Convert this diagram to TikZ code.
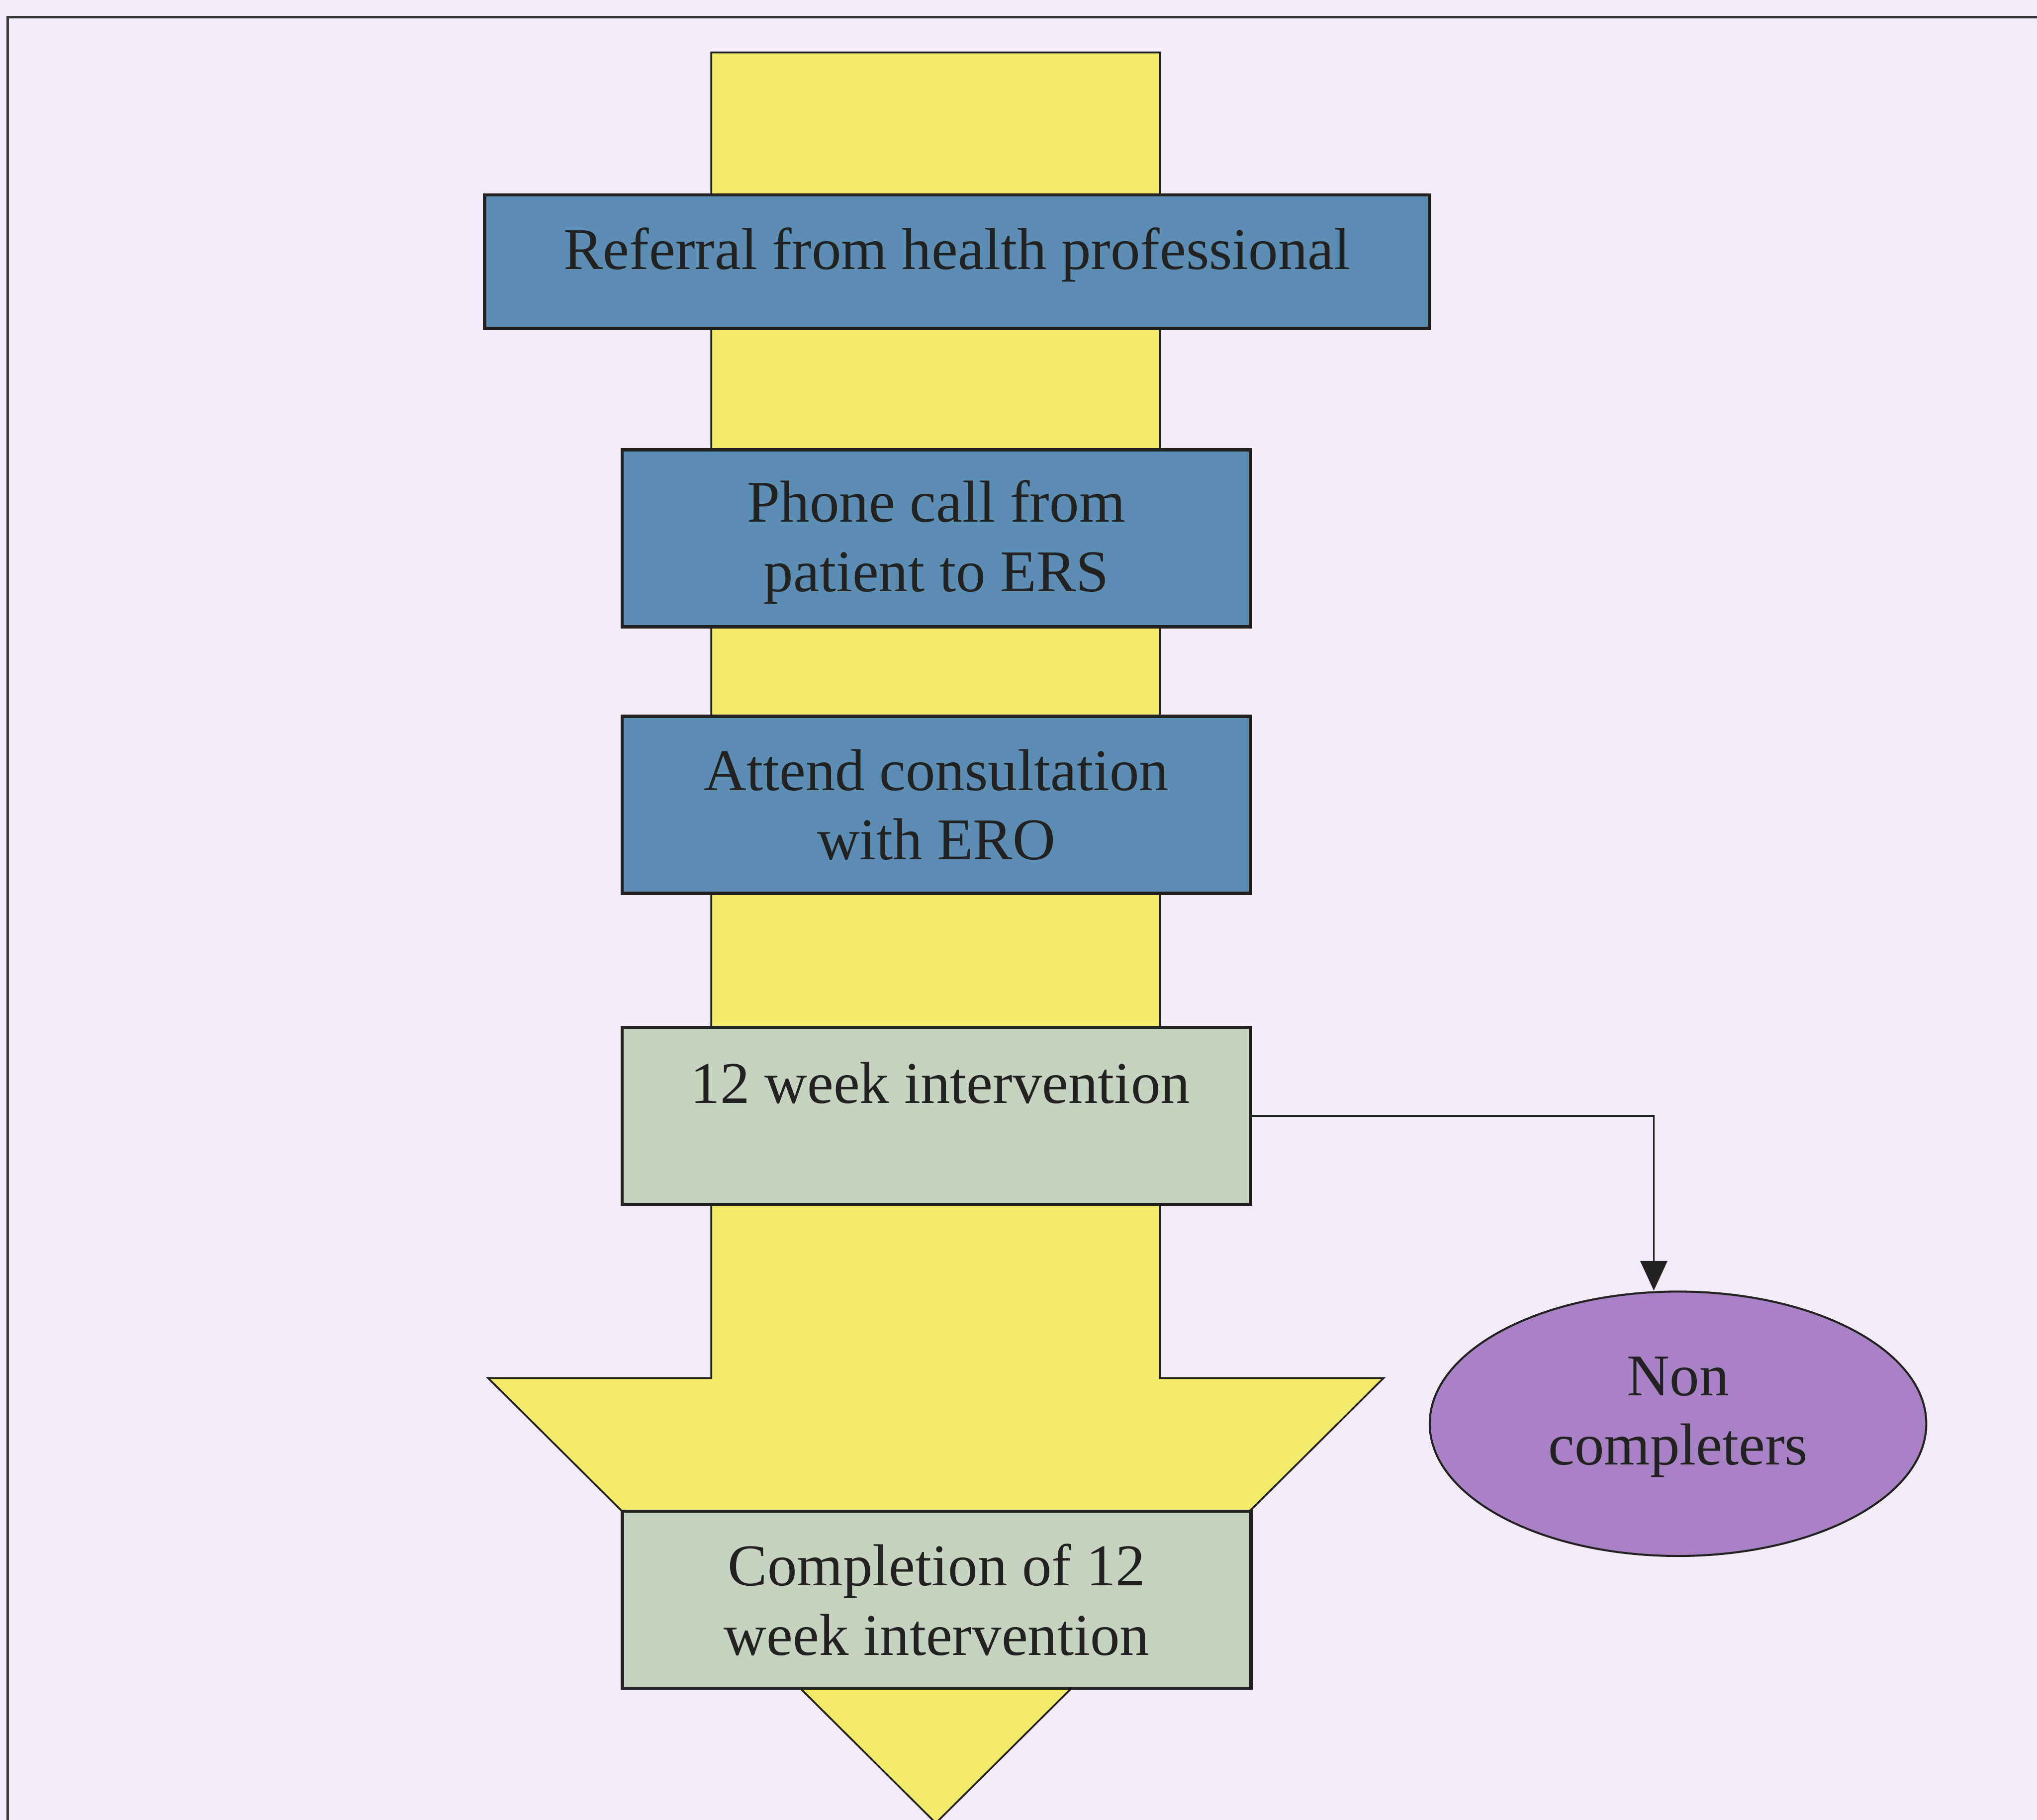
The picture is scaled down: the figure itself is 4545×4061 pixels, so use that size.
\documentclass[tikz,border=0pt]{standalone}
\usepackage{fontspec}
\setmainfont{Liberation Serif}
\usetikzlibrary{shapes.geometric,arrows.meta}

\definecolor{pagebg}{HTML}{F2ECF9}
\definecolor{arrowyellow}{HTML}{F1EA6A}
\definecolor{stepblue}{HTML}{5C8DB2}
\definecolor{stepgreen}{HTML}{C6D4BF}
\definecolor{exitpurple}{HTML}{A882C4}
\definecolor{inkdark}{HTML}{222222}

\tikzset{
  framerule/.style={draw=inkdark!90, line width=0.55pt},
  bigarrow/.style={fill=arrowyellow, draw=inkdark, line width=0.4pt, line join=miter},
  stepbox/.style={rectangle, draw=inkdark, line width=0.75pt, inner sep=0pt,
                  minimum width=140.2pt, minimum height=39.5pt},
  bluebox/.style={stepbox, fill=stepblue},
  greenbox/.style={stepbox, fill=stepgreen},
  exitnode/.style={ellipse, draw=inkdark, line width=0.45pt, fill=exitpurple,
                   inner sep=0pt, minimum width=110.8pt, minimum height=59pt},
  lbl/.style={inner sep=0pt, align=center, text=inkdark,
              font=\fontsize{13.2pt}{15.5pt}\selectfont},
  conn/.style={draw=inkdark, line width=0.4pt,
               -{Triangle[length=6.6pt, width=6pt]}}
}

\begin{document}
\begin{tikzpicture}[x=0.1pt, y=-0.1pt]
  % page and bounding box
  \fill[pagebg] (0,0) rectangle (4545,4061);
  \useasboundingbox (0,0) rectangle (4545,4061);

  % frame (top and left rules running off the page)
  \coordinate (frTR) at (4600,38);
  \coordinate (frTL) at (17,38);
  \coordinate (frBL) at (17,4100);
  \draw[framerule] (frTR) -- (frTL) -- (frBL);

  % the large downward arrow behind the steps
  \draw[bigarrow] (1587,117) -- (2588,117) -- (2588,3075) -- (3087,3075)
                  -- (2088,4068) -- (1089,3075) -- (1587,3075) -- cycle;

  % steps
  \node[bluebox, minimum width=210.9pt, minimum height=29.8pt]
       (referral) at (2135.5,584) {};
  \node[lbl] (referraltext) at (2135.5,568) {Referral from health professional};
  \node[bluebox] (phone) at (2089,1201) {};
  \node[lbl] (phonetext) at (2089,1210) {Phone call from\\patient to ERS};
  \node[bluebox, lbl] (attend) at (2089,1795.5) {Attend consultation\\with ERO};
  \node[greenbox] (twelve) at (2089,2490) {};
  \node[lbl] (twelvetext) at (2098,2417) {12 week intervention};
  \node[greenbox, lbl] (complete) at (2090,3569.5) {Completion of 12\\week intervention};

  % drop-out branch
  \node[exitnode] (noncomp) at (3744,3177) {};
  \node[lbl] (noncomptext) at (3744,3162) {Non\\completers};
  \coordinate (bend) at (3690,2490);
  \draw[conn] (twelve.east) -- (bend) -- (noncomp.north -| bend);
\end{tikzpicture}
\end{document}
